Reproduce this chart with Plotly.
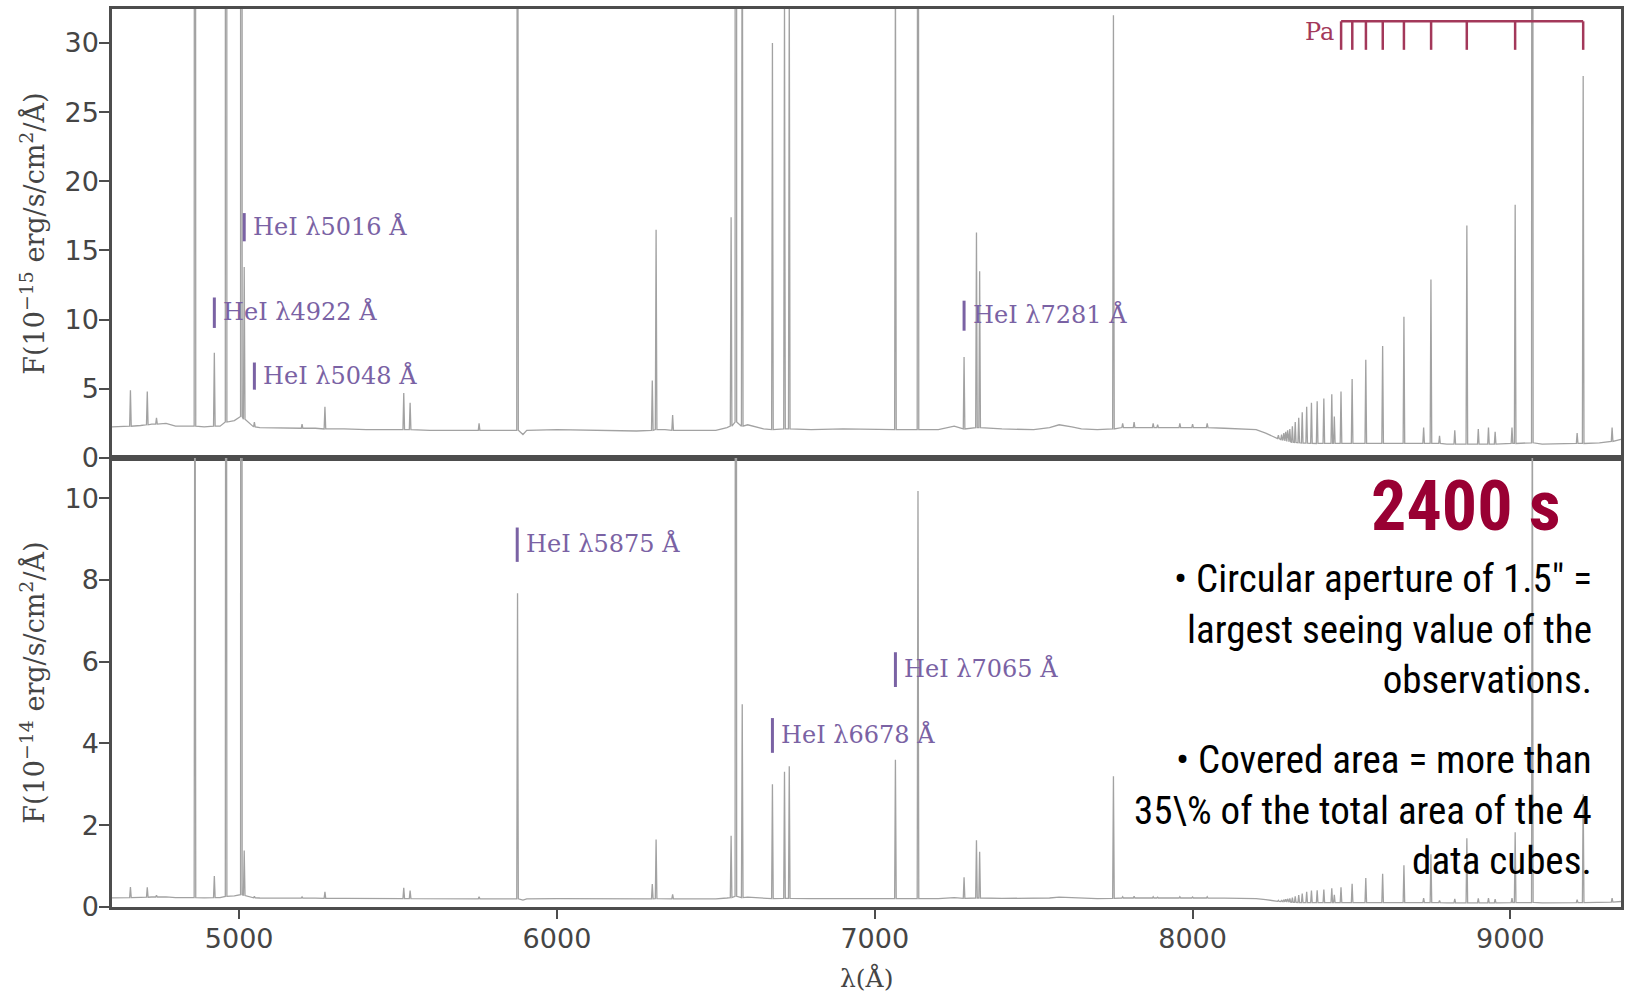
import plotly.graph_objects as go

# Continuum anchor points, flux in 10^-15 erg/s/cm^2/Å
cont_wl = [4600, 4650, 4690, 4725, 4770, 4800, 4850, 4890, 4940, 4985, 5035, 5065,
           5100, 5150, 5240, 5330, 5400, 5480, 5600, 5700, 5800, 5860, 5893, 5905,
           6000, 6100, 6200, 6250, 6340, 6400, 6500, 6535, 6600, 6650, 6800, 6900,
           7000, 7200, 7250, 7400, 7500, 7550, 7580, 7620, 7650, 7700, 7800, 7850,
           7920, 8020, 8100, 8200, 8230, 8262, 8400, 8520, 8620, 8700, 8800, 8850,
           8980, 9100, 9160, 9280, 9348]
cont_flux = [2.25, 2.3, 2.35, 2.45, 2.5, 2.3, 2.3, 2.25, 2.3, 2.7, 2.5, 2.2,
             2.2, 2.15, 2.15, 2.1, 2.05, 2.05, 2.0, 2.0, 2.0, 2.0, 1.7, 2.0,
             2.05, 2.0, 2.0, 1.95, 2.05, 2.0, 2.0, 2.2, 2.4, 2.1, 2.05, 2.1,
             2.05, 2.05, 2.3, 2.1, 2.05, 2.2, 2.4, 2.25, 2.1, 2.05, 2.2, 2.2,
             2.2, 2.2, 2.15, 2.05, 1.8, 1.45, 1.05, 1.05, 1.05, 1.05, 1.0, 1.0,
             1.05, 1.0, 1.05, 1.1, 1.35]

# Emission lines: wavelength (Å), peak flux and local base level (10^-15 units)
line_wl = [4658, 4711, 4740, 4861, 4922, 4959, 5007, 5016, 5048, 5198,
           5270, 5518, 5538, 5755, 5876, 6300, 6312, 6364, 6548, 6563,
           6583, 6678, 6716, 6731, 7065, 7136, 7281, 7320, 7330, 7751,
           7780, 7816, 7876, 7890, 7960, 8000, 8046,
           8270, 8280, 8287, 8293, 8299, 8306, 8314, 8323, 8334, 8345,
           8359, 8374, 8392, 8413, 8438, 8446, 8467, 8502, 8545, 8598,
           8665, 8727, 8750, 8777, 8825, 8863, 8899, 8931, 8952, 9005,
           9015, 9069, 9210, 9229, 9320]
line_peak = [4.9, 4.8, 2.9, 180.0, 7.6, 340.0, 1020.0, 13.8, 2.6, 2.45,
             3.7, 4.7, 4.0, 2.5, 76.7, 5.6, 16.5, 3.1, 17.4, 520.0,
             49.6, 30.0, 33.1, 34.4, 36.0, 101.7, 7.3, 16.3, 13.5, 32.0,
             2.5, 2.6, 2.5, 2.4, 2.5, 2.45, 2.5,
             1.65, 1.7, 1.8, 1.9, 2.0, 2.1, 2.3, 2.6, 2.9, 3.3,
             3.7, 4.0, 4.1, 4.3, 4.6, 3.0, 4.8, 5.7, 7.1, 8.1,
             10.2, 2.2, 12.9, 1.6, 2.0, 16.8, 2.1, 2.2, 1.9, 2.2,
             18.3, 140.0, 1.8, 27.6, 2.2]
line_base = [2.3, 2.4, 2.45, 2.3, 2.3, 2.6, 3.0, 2.8, 2.25, 2.15,
             2.1, 2.05, 2.05, 2.0, 2.0, 2.0, 2.05, 2.0, 2.3, 2.6,
             2.3, 2.05, 2.1, 2.1, 2.05, 2.05, 2.1, 2.2, 2.2, 2.1,
             2.2, 2.2, 2.2, 2.2, 2.2, 2.2, 2.2,
             1.4, 1.33, 1.28, 1.24, 1.2, 1.17, 1.14, 1.12, 1.1, 1.08,
             1.07, 1.06, 1.05, 1.05, 1.05, 1.05, 1.05, 1.05, 1.05, 1.05,
             1.05, 1.05, 1.05, 1.05, 1.0, 1.0, 1.0, 1.0, 1.0, 1.05,
             1.05, 1.1, 1.05, 1.05, 1.2]

# HeI identifications: wavelength and label-bar extent (flux units of that panel)
hei_top_wl = [4922, 5016, 5048, 7281]
hei_top_y0 = [9.4, 15.66, 4.94, 9.2]
hei_top_y1 = [11.6, 17.7, 6.9, 11.37]
hei_bot_wl = [5875, 7065, 6678]
hei_bot_y0 = [8.44, 5.38, 3.77]
hei_bot_y1 = [9.28, 6.23, 4.62]

# Paschen series markers Pa9 ... Pa17
pa_wl = [8467.3, 8502.5, 8545.4, 8598.4, 8665.0, 8750.5, 8862.8, 9014.9, 9229.0]

x_ticks = [5000, 6000, 7000, 8000, 9000]
top_ticks = [0, 5, 10, 15, 20, 25, 30]
bot_ticks = [0, 2, 4, 6, 8, 10]

# Assemble the polyline: continuum anchors plus a narrow spike per line
HALF = 2.5
pts = list(zip(cont_wl, cont_flux))
for w, p, b in zip(line_wl, line_peak, line_base):
    pts += [(w - HALF, b), (w, p), (w + HALF, b)]
pts.sort()
wl = [p[0] for p in pts]
flux15 = [p[1] for p in pts]
flux14 = [v / 10.0 for v in flux15]

SPEC = "#a2a2a2"
FRAME = "#4d4d4d"
PURPLE = "#7a62a4"
PA_COL = "#a3385a"
SERIF = "DejaVu Serif, serif"
SANS = "DejaVu Sans, sans-serif"
NARROW = ("Roboto Condensed, Open Sans Condensed, Liberation Sans Narrow, "
          "Arial Narrow, DejaVu Sans Condensed, sans-serif")

fig = go.Figure()
fig.add_trace(go.Scatter(x=wl, y=flux15, mode="lines", xaxis="x", yaxis="y",
                         line=dict(color=SPEC, width=1.3), hoverinfo="skip",
                         showlegend=False))
fig.add_trace(go.Scatter(x=wl, y=flux14, mode="lines", xaxis="x2", yaxis="y2",
                         line=dict(color=SPEC, width=1.3), hoverinfo="skip",
                         showlegend=False))

axis_common = dict(showline=True, mirror=True, linecolor=FRAME, linewidth=2.5,
                   showgrid=False, zeroline=False,
                   tickfont=dict(family=SANS, size=27, color="#454545"),
                   tickcolor=FRAME, tickwidth=2)

fig.update_layout(
    width=1629, height=993,
    margin=dict(l=112, r=5, t=9, b=86),
    paper_bgcolor="white", plot_bgcolor="white",
    xaxis=dict(domain=[0, 1], anchor="y", range=[4600, 9348],
               showticklabels=False, ticks="", **axis_common),
    xaxis2=dict(domain=[0, 1], anchor="y2", range=[4600, 9348], matches="x",
                tickvals=x_ticks, ticks="outside", ticklen=9,
                ticklabelstandoff=-3, **axis_common),
    yaxis=dict(domain=[0.5, 1], anchor="x", range=[0, 32.45],
               tickvals=top_ticks, ticks="outside", ticklen=10,
               ticklabelstandoff=-5, **axis_common),
    yaxis2=dict(domain=[0, 0.5], anchor="x2", range=[0, 10.98],
                tickvals=bot_ticks, ticks="outside", ticklen=10,
                ticklabelstandoff=-5, **axis_common),
)

shapes = []
annotations = []


def hei_label(w, y0, y1, xref, yref):
    shapes.append(dict(type="line", xref=xref, yref=yref, x0=w, x1=w, y0=y0, y1=y1,
                       line=dict(color=PURPLE, width=3)))
    annotations.append(dict(x=w, y=(y0 + y1) / 2, xref=xref, yref=yref,
                            text=f"HeI λ{w} Å", showarrow=False,
                            xanchor="left", yanchor="middle", xshift=7, yshift=1,
                            font=dict(family=SERIF, size=24, color=PURPLE)))


for w, a, b in zip(hei_top_wl, hei_top_y0, hei_top_y1):
    hei_label(w, a, b, "x", "y")
for w, a, b in zip(hei_bot_wl, hei_bot_y0, hei_bot_y1):
    hei_label(w, a, b, "x2", "y2")

# Paschen comb
PA_TOP, PA_BOT = 31.56, 29.5
shapes.append(dict(type="line", xref="x", yref="y", x0=pa_wl[0], x1=pa_wl[-1],
                   y0=PA_TOP, y1=PA_TOP, line=dict(color=PA_COL, width=2.5)))
for w in pa_wl:
    shapes.append(dict(type="line", xref="x", yref="y", x0=w, x1=w,
                       y0=PA_BOT, y1=PA_TOP, line=dict(color=PA_COL, width=2.5)))
annotations.append(dict(x=pa_wl[0], y=30.78, xref="x", yref="y", text="Pa",
                        showarrow=False, xanchor="right", yanchor="middle", xshift=-5,
                        font=dict(family=SERIF, size=24, color=PA_COL)))

# Axis titles
ytitle = "F(10<sup>−{}</sup> erg/s/cm<sup>2</sup>/Å)"
annotations.append(dict(x=-0.0529, y=0.75, xref="paper", yref="paper",
                        text=ytitle.format(15), textangle=-90, showarrow=False,
                        xanchor="center", yanchor="middle",
                        font=dict(family=SERIF, size=27, color="#454545")))
annotations.append(dict(x=-0.0529, y=0.25, xref="paper", yref="paper",
                        text=ytitle.format(14), textangle=-90, showarrow=False,
                        xanchor="center", yanchor="middle",
                        font=dict(family=SERIF, size=27, color="#454545")))
annotations.append(dict(x=0.5, y=-0.0794, xref="paper", yref="paper",
                        text="λ(Å)", showarrow=False,
                        xanchor="center", yanchor="middle",
                        font=dict(family=SERIF, size=25, color="#454545")))

# Exposure note
annotations.append(dict(x=0.961, y=0.4468, xref="paper", yref="paper",
                        text="<b>2400 s</b>", showarrow=False,
                        xanchor="right", yanchor="middle",
                        font=dict(family=NARROW, size=70, color="#990033")))
annotations.append(dict(x=0.982, y=0.309, xref="paper", yref="paper",
                        text="• Circular aperture of 1.5\" =<br>largest seeing value of the<br>observations.",
                        showarrow=False, xanchor="right", yanchor="middle", align="right",
                        font=dict(family=NARROW, size=39, color="black")))
annotations.append(dict(x=0.982, y=0.108, xref="paper", yref="paper",
                        text="• Covered area = more than<br>35\\% of the total area of the 4<br>data cubes.",
                        showarrow=False, xanchor="right", yanchor="middle", align="right",
                        font=dict(family=NARROW, size=39, color="black")))

fig.update_layout(shapes=shapes, annotations=annotations)
fig.write_html("out.html")
